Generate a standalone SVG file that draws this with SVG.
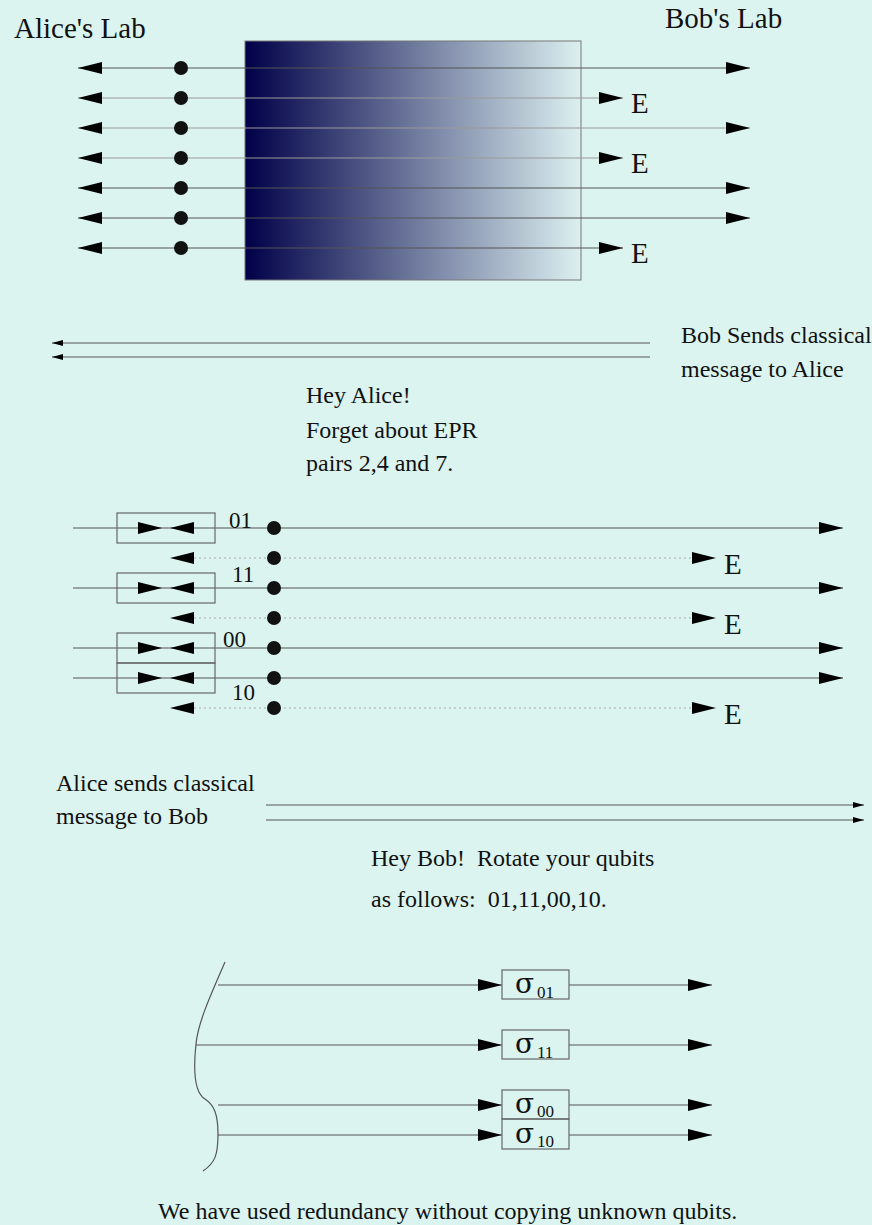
<svg xmlns="http://www.w3.org/2000/svg" xmlns:xlink="http://www.w3.org/1999/xlink" width="872" height="1225" viewBox="0 0 872 1225">
<style>
text{font-family:"Liberation Serif","Times New Roman",serif;fill:#111}
.t29{font-size:29px}
.t24{font-size:24px}
.t23{font-size:23px}
.sig{font-size:28px;font-family:"DejaVu Serif","Liberation Serif",serif}
.sub{font-size:17px}
.ln{stroke:#555;stroke-width:1.2;fill:none}
.lt{stroke:#999;stroke-width:1.2;fill:none}
.dt{stroke:#aaa;stroke-width:1;stroke-dasharray:2,3;fill:none}
.box{fill:none;stroke:#666;stroke-width:1.2}
.dot{fill:#111}
.ah{fill:#000}
</style>
<defs>
<linearGradient id="grad" x1="0" y1="0" x2="1" y2="0">
<stop offset="0" stop-color="#000048"/>
<stop offset="1" stop-color="#dcf0f0"/>
</linearGradient>
<marker id="mB" viewBox="0 0 24 12" refX="24" refY="6" markerWidth="24" markerHeight="12" markerUnits="userSpaceOnUse" orient="auto-start-reverse">
<path d="M0,0 L24,6 L0,12 Z" fill="#000"/>
</marker>
<marker id="mS" viewBox="0 0 11 6" refX="11" refY="3" markerWidth="11" markerHeight="6" markerUnits="userSpaceOnUse" orient="auto-start-reverse">
<path d="M0,0 L11,3 L0,6 Z" fill="#000"/>
</marker>
<path id="ahR" class="ah" d="M0,0 L-24,-6 L-24,6 Z"/>
<path id="ahL" class="ah" d="M0,0 L24,-6 L24,6 Z"/>
</defs>
<rect x="0" y="0" width="872" height="1225" fill="#dbf4f0"/>

<g id="labs">
<text class="t29" x="14" y="38">Alice's Lab</text>
<text class="t29" x="665" y="28">Bob's Lab</text>
</g>

<g id="source">
<rect x="245" y="41" width="336" height="239" fill="url(#grad)" stroke="#777" stroke-width="1"/>
</g>

<g id="connectors">
<line class="ln" x1="78" y1="68" x2="750" y2="68" marker-start="url(#mB)" marker-end="url(#mB)"/>
<line class="lt" x1="78" y1="98" x2="623" y2="98" marker-start="url(#mB)" marker-end="url(#mB)"/>
<line class="lt" x1="78" y1="128" x2="750" y2="128" marker-start="url(#mB)" marker-end="url(#mB)"/>
<line class="lt" x1="78" y1="158" x2="623" y2="158" marker-start="url(#mB)" marker-end="url(#mB)"/>
<line class="ln" x1="78" y1="188" x2="750" y2="188" marker-start="url(#mB)" marker-end="url(#mB)"/>
<line class="ln" x1="78" y1="218" x2="750" y2="218" marker-start="url(#mB)" marker-end="url(#mB)"/>
<line class="ln" x1="78" y1="248" x2="623" y2="248" marker-start="url(#mB)" marker-end="url(#mB)"/>
<line class="ln" x1="650" y1="343" x2="52" y2="343" marker-end="url(#mS)"/>
<line class="ln" x1="650" y1="357" x2="52" y2="357" marker-end="url(#mS)"/>
<line class="ln" x1="73" y1="528" x2="843" y2="528" marker-end="url(#mB)"/>
<line class="dt" x1="194" y1="558" x2="694" y2="558"/>
<line class="ln" x1="73" y1="588" x2="843" y2="588" marker-end="url(#mB)"/>
<line class="dt" x1="194" y1="618" x2="694" y2="618"/>
<line class="ln" x1="73" y1="648" x2="843" y2="648" marker-end="url(#mB)"/>
<line class="ln" x1="73" y1="678" x2="843" y2="678" marker-end="url(#mB)"/>
<line class="dt" x1="194" y1="708" x2="694" y2="708"/>
<use xlink:href="#ahR" x="162" y="528"/><use xlink:href="#ahL" x="170" y="528"/>
<use xlink:href="#ahR" x="162" y="588"/><use xlink:href="#ahL" x="170" y="588"/>
<use xlink:href="#ahR" x="162" y="648"/><use xlink:href="#ahL" x="170" y="648"/>
<use xlink:href="#ahR" x="162" y="678"/><use xlink:href="#ahL" x="170" y="678"/>
<use xlink:href="#ahL" x="170" y="558"/><use xlink:href="#ahR" x="716" y="558"/>
<use xlink:href="#ahL" x="170" y="618"/><use xlink:href="#ahR" x="716" y="618"/>
<use xlink:href="#ahL" x="170" y="708"/><use xlink:href="#ahR" x="716" y="708"/>
<line class="ln" x1="266" y1="805" x2="864" y2="805" marker-end="url(#mS)"/>
<line class="ln" x1="266" y1="820" x2="864" y2="820" marker-end="url(#mS)"/>
<path class="ln" d="M225,962 C212,992 198,1022 196,1044 C193,1072 195,1093 205,1099 C214,1105 218,1114 218,1134 C218,1155 215,1163 203,1171"/>
<line class="ln" x1="218" y1="985" x2="502" y2="985" marker-end="url(#mB)"/>
<line class="ln" x1="196" y1="1045" x2="502" y2="1045" marker-end="url(#mB)"/>
<line class="ln" x1="218" y1="1105" x2="502" y2="1105" marker-end="url(#mB)"/>
<line class="ln" x1="218" y1="1135" x2="502" y2="1135" marker-end="url(#mB)"/>
<line class="ln" x1="569" y1="985" x2="712" y2="985" marker-end="url(#mB)"/>
<line class="ln" x1="569" y1="1045" x2="712" y2="1045" marker-end="url(#mB)"/>
<line class="ln" x1="569" y1="1105" x2="712" y2="1105" marker-end="url(#mB)"/>
<line class="ln" x1="569" y1="1135" x2="712" y2="1135" marker-end="url(#mB)"/>
</g>

<g id="topDots">
<circle class="dot" cx="181" cy="68" r="7"/>
<circle class="dot" cx="181" cy="98" r="7"/>
<circle class="dot" cx="181" cy="128" r="7"/>
<circle class="dot" cx="181" cy="158" r="7"/>
<circle class="dot" cx="181" cy="188" r="7"/>
<circle class="dot" cx="181" cy="218" r="7"/>
<circle class="dot" cx="181" cy="248" r="7"/>
</g>
<g id="topE">
<text class="t29" x="631" y="113">E</text>
<text class="t29" x="631" y="173">E</text>
<text class="t29" x="631" y="263">E</text>
</g>

<g id="bobMsg">
<text class="t24" x="681" y="343">Bob Sends classical</text>
<text class="t24" x="681" y="377">message to Alice</text>
</g>
<g id="heyAlice">
<text class="t24" x="306" y="403">Hey Alice!</text>
<text class="t24" x="306" y="438">Forget about EPR</text>
<text class="t24" x="306" y="471">pairs 2,4 and 7.</text>
</g>

<g id="midBoxes">
<rect class="box" x="117" y="513" width="98" height="30"/>
<rect class="box" x="117" y="573" width="98" height="30"/>
<rect class="box" x="117" y="633" width="98" height="30"/>
<rect class="box" x="117" y="663" width="98" height="30"/>
</g>
<g id="midDots">
<circle class="dot" cx="274" cy="528" r="7"/>
<circle class="dot" cx="274" cy="558" r="7"/>
<circle class="dot" cx="274" cy="588" r="7"/>
<circle class="dot" cx="274" cy="618" r="7"/>
<circle class="dot" cx="274" cy="648" r="7"/>
<circle class="dot" cx="274" cy="678" r="7"/>
<circle class="dot" cx="274" cy="708" r="7"/>
</g>
<g id="midLabels">
<text class="t23" x="229" y="528">01</text>
<text class="t23" x="232" y="582">11</text>
<text class="t23" x="223" y="647">00</text>
<text class="t23" x="232" y="700">10</text>
<text class="t29" x="724" y="574">E</text>
<text class="t29" x="724" y="634">E</text>
<text class="t29" x="724" y="724">E</text>
</g>

<g id="aliceMsg">
<text class="t24" x="56" y="791">Alice sends classical</text>
<text class="t24" x="56" y="824">message to Bob</text>
</g>
<g id="heyBob">
<text class="t24" x="371" y="866" xml:space="preserve">Hey Bob!  Rotate your qubits</text>
<text class="t24" x="371" y="907" xml:space="preserve">as follows:  01,11,00,10.</text>
</g>

<g id="sigma01">
<rect class="box" x="502" y="970" width="67" height="29"/>
<text class="sig" x="515" y="993">σ</text><text class="sub" x="537" y="998">01</text>
</g>
<g id="sigma11">
<rect class="box" x="502" y="1030" width="67" height="29"/>
<text class="sig" x="515" y="1053">σ</text><text class="sub" x="537" y="1058">11</text>
</g>
<g id="sigma00">
<rect class="box" x="502" y="1090" width="67" height="29"/>
<text class="sig" x="515" y="1113">σ</text><text class="sub" x="537" y="1117">00</text>
</g>
<g id="sigma10">
<rect class="box" x="502" y="1119" width="67" height="30"/>
<text class="sig" x="515" y="1143">σ</text><text class="sub" x="537" y="1147">10</text>
</g>

<g id="caption">
<text class="t24" x="158" y="1219">We have used redundancy without copying unknown qubits.</text>
</g>
</svg>
